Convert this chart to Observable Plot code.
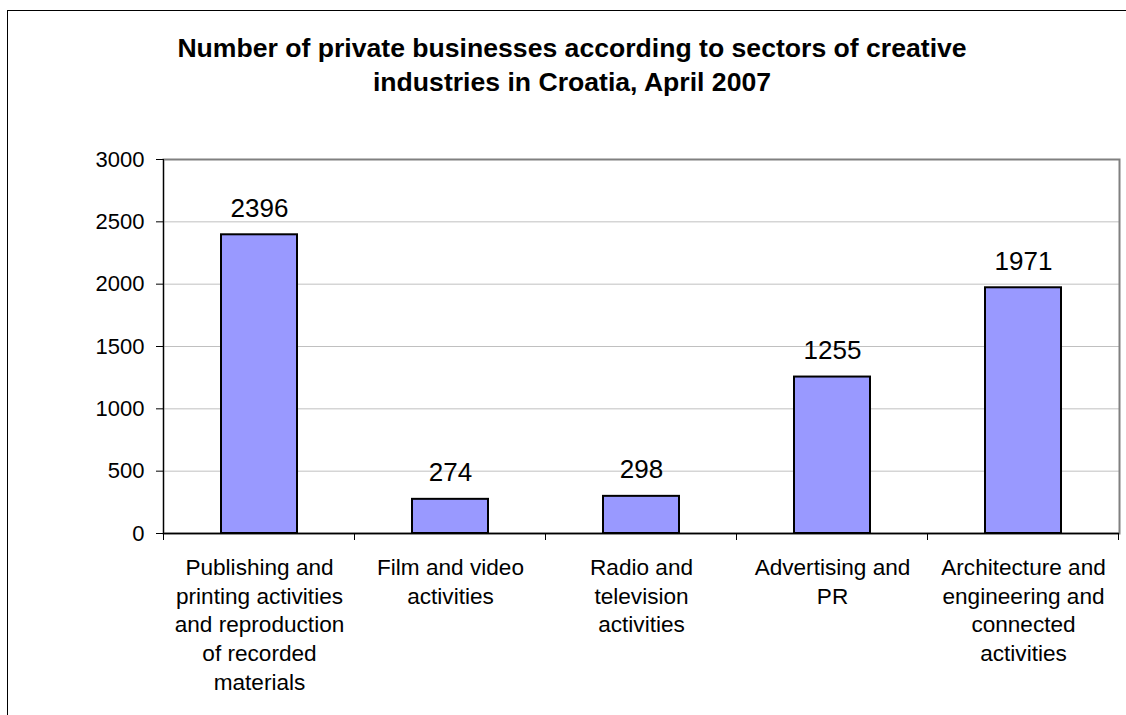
<!DOCTYPE html>
<html><head><meta charset="utf-8">
<script src="https://cdn.jsdelivr.net/npm/d3@7"></script>
<script src="https://cdn.jsdelivr.net/npm/@observablehq/plot@0.6"></script>
<style>
html,body{margin:0;padding:0;background:#fff;}
body{width:1126px;height:715px;overflow:hidden;position:relative;font-family:"Liberation Sans",Arial,sans-serif;}
#border{position:absolute;left:7px;top:10px;width:1200px;height:800px;border-left:1px solid #000;border-top:1px solid #000;box-sizing:border-box;pointer-events:none;}
#title{position:relative;height:100px;box-sizing:border-box;padding-top:31px;padding-left:18px;margin:0;width:1126px;text-align:center;font-weight:bold;font-size:26.6px;line-height:34px;color:#000;}
#chart{position:relative;height:615px;}
</style></head><body>
<div id="border"></div>
<div id="title">Number of private businesses according to sectors of creative<br>industries in Croatia, April 2007</div>
<div id="chart"></div>
<script>
const categories = [
  "Publishing and printing activities and reproduction of recorded materials",
  "Film and video activities",
  "Radio and television activities",
  "Advertising and PR",
  "Architecture and engineering and connected activities"
];
const tickLabels = [
  "Publishing and\nprinting activities\nand reproduction\nof recorded\nmaterials",
  "Film and video\nactivities",
  "Radio and\ntelevision\nactivities",
  "Advertising and\nPR",
  "Architecture and\nengineering and\nconnected\nactivities"
];
const values = [2396, 274, 298, 1255, 1971];
const yTicks = [0, 500, 1000, 1500, 2000, 2500, 3000];
const gridTicks = [500, 1000, 1500, 2000, 2500];

const data = categories.map((c, i) => ({category: c, label: tickLabels[i], value: values[i]}));
const font = '"Liberation Sans", Arial, sans-serif';

const plot = Plot.plot({
  width: 1126,
  height: 615,
  marginTop: 59,
  marginBottom: 182,
  marginLeft: 163,
  marginRight: 7,
  style: {fontFamily: font, background: "transparent", color: "#000", overflow: "visible"},
  x: {domain: categories, paddingInner: 0.6, paddingOuter: 0.3, axis: null},
  y: {domain: [0, 3000], axis: null},
  marks: [
    Plot.gridY(gridTicks, {stroke: "#c0c0c0", strokeOpacity: 1, strokeWidth: 1}),
    Plot.frame({stroke: "#808080", strokeWidth: 2}),
    Plot.barY(data, {x: "category", y: "value", fill: "#9999ff", stroke: "#000", strokeWidth: 2}),
    Plot.ruleY([0], {stroke: "#000", strokeWidth: 1.5}),
    Plot.axisY({ticks: yTicks, tickSize: 7, tickPadding: 12, fontSize: 22, stroke: "#000", fill: "#000", label: null, tickFormat: d => String(d)}),
    Plot.text(data, {x: "category", y: "value", text: d => String(d.value), dy: -18, lineAnchor: "bottom", fontSize: 26, fill: "#000"}),
    Plot.text(data, {x: "category", y: () => 0, text: "label", lineAnchor: "top", lineHeight: 1.27, dy: 21, fontSize: 22.6, fill: "#000"})
  ]
});

document.getElementById("chart").appendChild(plot);

// Category-boundary ticks and the left axis line, placed from Plot's own scales
const xs = plot.scale("x");
const ys = plot.scale("y");
const y0 = ys.apply(0), yTop = ys.apply(3000);
const g = d3.select(plot).append("g").attr("stroke", "#000").attr("stroke-width", 1);
g.append("line")
  .attr("x1", xs.range[0] + 0.5).attr("x2", xs.range[0] + 0.5)
  .attr("y1", yTop).attr("y2", y0 + 7);
d3.range(categories.length + 1).forEach(k => {
  const x = xs.range[0] + k * xs.step + 0.5;
  g.append("line").attr("x1", x).attr("x2", x).attr("y1", y0).attr("y2", y0 + 7);
});
</script>
</body></html>
